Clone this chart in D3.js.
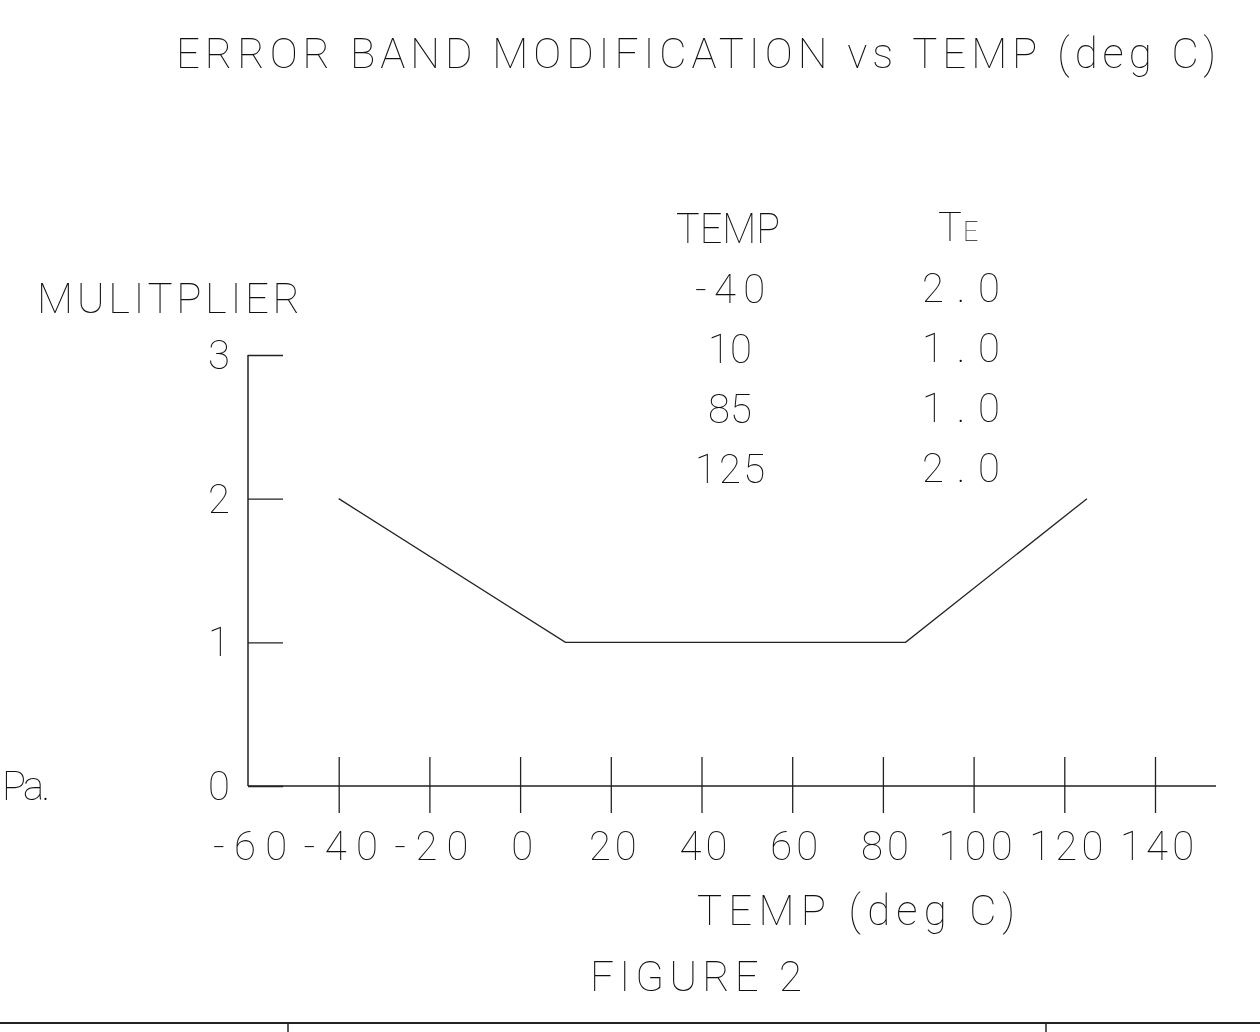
<!DOCTYPE html>
<html>
<head>
<meta charset="utf-8">
<script src="https://cdn.jsdelivr.net/npm/d3@7"></script>
<style>
  html, body { margin: 0; padding: 0; background: #fff; }
  svg { filter: grayscale(100%); }
  svg text { font-family: "Roboto", "DejaVu Sans", sans-serif; font-weight: 100; fill: #111; }
</style>
</head>
<body>
<div id="chart"></div>
<script>
// data
var temps = [-40, 10, 85, 125];
var multipliers = [2.0, 1.0, 1.0, 2.0];
var xTicks = [-60, -40, -20, 0, 20, 40, 60, 80, 100, 120, 140];
var yTicks = [0, 1, 2, 3];
var tableHead = ["TEMP", "T", "E"];
var tempLabels = ["-40", "10", "85", "125"];
var teLabels = ["2.0", "1.0", "1.0", "2.0"];

var width = 1260;
var height = 1032;

var svg = d3.select("#chart")
  .append("svg")
  .attr("width", width)
  .attr("height", height);

// scales
var xScale = d3.scaleLinear().domain([-60, 140]).range([248, 1155]);
var yScale = d3.scaleLinear().domain([0, 3]).range([786, 355]);

// helper for the stroke-font look: spread chars to a fixed pitch
function pitchLen(s) {
  return s.length * 26.4 - 5;
}

function addText(str, x, y, size, anchor, len, adj) {
  var t = svg.append("text")
    .attr("x", x)
    .attr("y", y)
    .attr("font-size", size)
    .attr("text-anchor", anchor || "start")
    .text(str);
  if (len) t.attr("textLength", len).attr("lengthAdjust", adj || "spacing");
  return t;
}

// title
addText("ERROR BAND MODIFICATION vs TEMP (deg C)", 176, 68, 42, "start", 1040);

// y label
addText("MULITPLIER", 37, 313, 42, "start", 263);

// left margin fragment (cut off in the original sheet)
addText("Pa.", 2, 800, 40, "start", 48);

// y axis
var yAxis = d3.axisRight(yScale)
  .tickValues(yTicks)
  .tickSizeInner(35)
  .tickSizeOuter(0)
  .tickFormat("");

var yG = svg.append("g")
  .attr("transform", "translate(248,0)")
  .call(yAxis);
yG.select(".domain").remove();
yG.selectAll(".tick line").attr("stroke", "#222").attr("stroke-width", 1.3);

svg.append("line")
  .attr("x1", 248).attr("x2", 248)
  .attr("y1", yScale(3)).attr("y2", yScale(0))
  .attr("stroke", "#222").attr("stroke-width", 1.5);

svg.selectAll(".ylab")
  .data(yTicks)
  .enter()
  .append("text")
  .attr("class", "ylab")
  .attr("x", 219)
  .attr("y", function(d) { return yScale(d) + 14; })
  .attr("text-anchor", "middle")
  .attr("font-size", 40)
  .text(function(d) { return d; });

// x axis
var xAxis = d3.axisBottom(xScale)
  .tickValues(xTicks)
  .tickSizeOuter(0)
  .tickFormat("");

var xG = svg.append("g")
  .attr("transform", "translate(0," + yScale(0) + ")")
  .call(xAxis);
xG.select(".domain").remove();
xG.selectAll(".tick line")
  .attr("y1", -29)
  .attr("y2", 27)
  .attr("stroke", "#222")
  .attr("stroke-width", 1.3)
  .attr("display", function(d) { return d === -60 ? "none" : null; });

svg.append("line")
  .attr("x1", 248).attr("x2", 1216)
  .attr("y1", yScale(0)).attr("y2", yScale(0))
  .attr("stroke", "#222").attr("stroke-width", 1.5);

svg.selectAll(".xlab")
  .data(xTicks)
  .enter()
  .append("text")
  .attr("class", "xlab")
  .attr("x", function(d) { return xScale(d) + 2; })
  .attr("y", 860)
  .attr("text-anchor", "middle")
  .attr("font-size", 40)
  .each(function(d) {
    var s = String(d);
    var t = d3.select(this).text(s);
    if (s.length > 1) t.attr("textLength", pitchLen(s)).attr("lengthAdjust", "spacing");
  });

// x label + caption
addText("TEMP (deg C)", 697, 925, 42, "start", 318);
addText("FIGURE 2", 590, 991, 42, "start", 212);

// data line
var pts = temps.map(function(t, i) { return [t, multipliers[i]]; });
var line = d3.line()
  .x(function(d) { return xScale(d[0]); })
  .y(function(d) { return yScale(d[1]); });

svg.append("path")
  .datum(pts)
  .attr("d", line)
  .attr("fill", "none")
  .attr("stroke", "#222")
  .attr("stroke-width", 1.3);

// table
addText(tableHead[0], 676, 243, 42, "start", 104, "spacingAndGlyphs");
addText(tableHead[1], 938, 241, 40, "start");
addText(tableHead[2], 963, 241, 27, "start");

tempLabels.forEach(function(s, i) {
  addText(s, 730, 303 + i * 60, 40, "middle", s.length > 1 ? pitchLen(s) - 4 : null);
});
teLabels.forEach(function(s, i) {
  addText(s, 961, 302 + i * 60, 40, "middle", 78);
});

// title block frame at the bottom
svg.append("line")
  .attr("x1", 0).attr("x2", width)
  .attr("y1", 1023).attr("y2", 1023)
  .attr("stroke", "#222").attr("stroke-width", 2);
[288, 1046].forEach(function(x) {
  svg.append("line")
    .attr("x1", x).attr("x2", x)
    .attr("y1", 1023).attr("y2", height)
    .attr("stroke", "#222").attr("stroke-width", 1.5);
});
</script>
</body>
</html>
